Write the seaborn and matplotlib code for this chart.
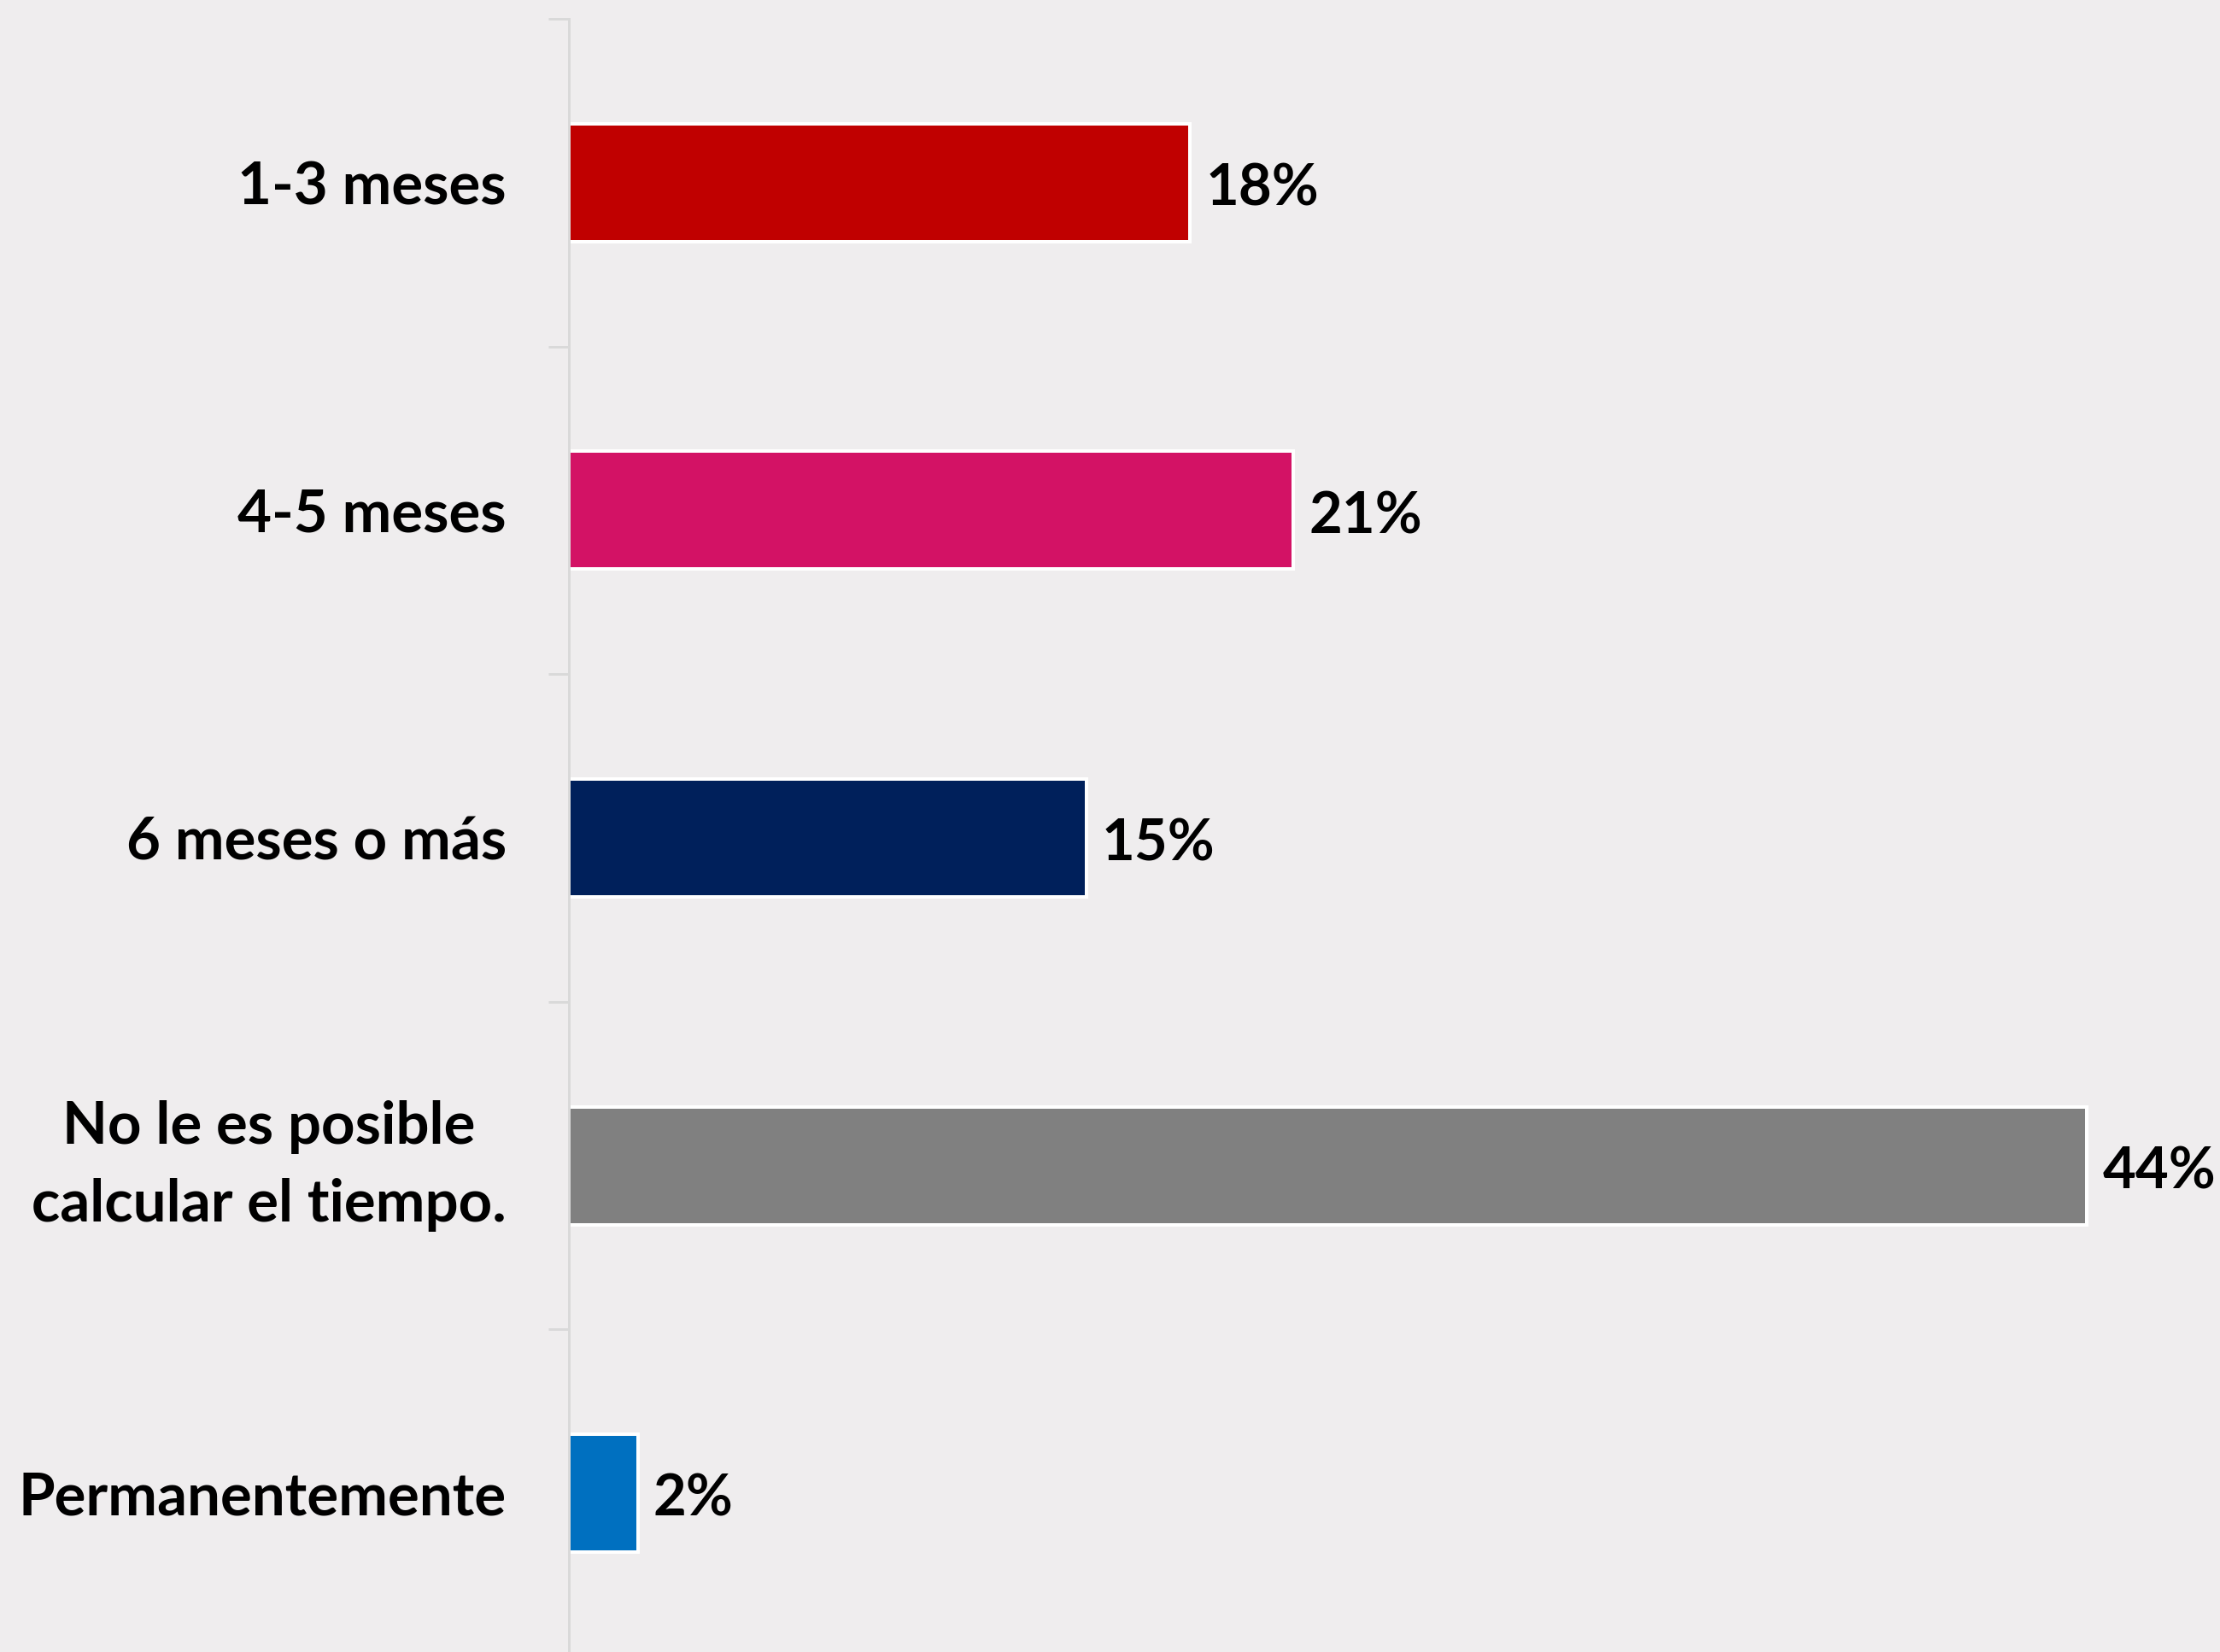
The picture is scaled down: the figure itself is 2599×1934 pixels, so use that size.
import pandas as pd
import numpy as np
import seaborn as sns
import matplotlib.pyplot as plt

categorias = ["1-3 meses", "4-5 meses", "6 meses o más",
              "No le es posible\ncalcular el tiempo.", "Permanentemente"]
porcentajes = [18, 21, 15, 44, 2]
colores = ["#C00000", "#D31265", "#00205B", "#808080", "#0070C0"]

df = pd.DataFrame({"categoria": categorias, "valor": porcentajes})

bg = "#EFEDEE"
sns.set_style("white")
plt.rcParams["font.family"] = ["Lato", "DejaVu Sans"]

fig = plt.figure(figsize=(2599 / 72, 1934 / 72), dpi=72, facecolor=bg)
ax = fig.add_axes([666 / 2599, -6 / 1934, 1 - 666 / 2599, 1918 / 1934])
ax.set_facecolor(bg)

sns.barplot(data=df, x="valor", y="categoria", hue="categoria",
            palette=colores, legend=False, width=0.36, saturation=1,
            edgecolor="white", linewidth=4, ax=ax)

ax.set_xlim(0, 47.86)
ax.set_ylim(4.5, -0.5)

for i, v in enumerate(porcentajes):
    ax.text(v + 0.45, i + 0.02, f"{v}%", va="center", ha="left",
            fontsize=67, fontweight="bold", color="black")

ax.set_xlabel("")
ax.set_ylabel("")
ax.set_xticks([])
ax.set_yticks(range(len(categorias)))
ax.set_yticklabels(categorias, fontsize=69, fontweight="bold", color="black",
                   multialignment="center", linespacing=1.55)
# la etiqueta de dos lineas queda un poco baja con center_baseline
for lbl in ax.get_yticklabels():
    if "\n" in lbl.get_text():
        lbl.set_va("center")
ax.tick_params(axis="y", which="major", left=False, length=0, pad=73)
ax.set_yticks(np.arange(-0.5, 4.6, 1), minor=True)
ax.tick_params(axis="y", which="minor", left=True, length=24, width=3,
               color="#D9D9D9")

for s in ["top", "right", "bottom"]:
    ax.spines[s].set_visible(False)
ax.spines["left"].set_color("#D9D9D9")
ax.spines["left"].set_linewidth(3)

fig.savefig("out.png", dpi=72, facecolor=bg)
